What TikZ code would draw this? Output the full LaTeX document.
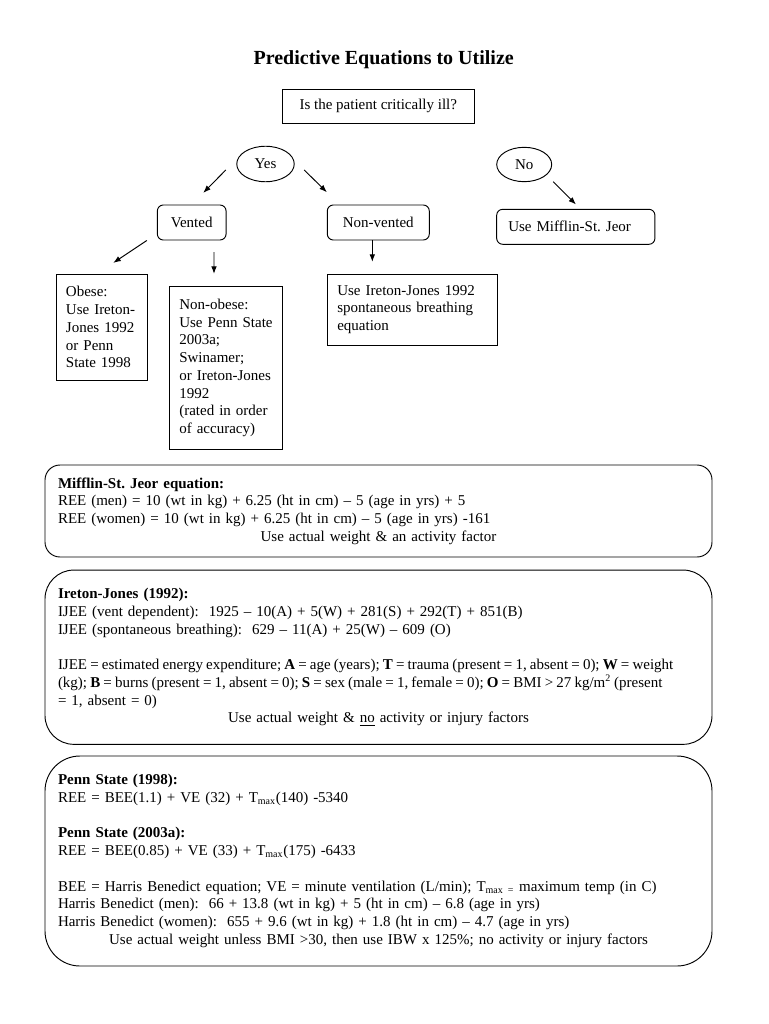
\documentclass[tikz,border=0pt]{standalone}
\usepackage{fontspec}
\setmainfont{Liberation Serif}
\usetikzlibrary{shapes.geometric,arrows.meta,calc}

\tikzset{every picture/.style={line width=0.75pt}}
\tikzset{
  txt/.style={font=\fontsize{12}{14.2}\selectfont\frenchspacing},
  sqbox/.style={draw, rectangle, txt, inner ysep=2pt},
  rndbox/.style={draw, rectangle, rounded corners=4.8pt, txt, inner ysep=2pt},
  oval/.style={draw, ellipse, txt, inner sep=0pt},
  eqbox/.style={draw, rectangle, txt, align=left, text width=512.8pt, inner xsep=10.4pt, inner ysep=2pt},
  arr/.style={-{Latex[length=6pt,width=4.5pt]}},
}
\newcommand{\tightline}[1]{\mbox{\spaceskip=0.21em plus 0.05em\relax #1}}

\begin{document}
\begin{tikzpicture}[x=0.8pt,y=0.8pt,yscale=-1,xscale=1]
\useasboundingbox (0,0) rectangle (768,1024);

% Text Node
\node [anchor=base, font=\fontsize{16}{19}\selectfont\bfseries] (title) at (383.7,65) {Predictive Equations to Utilize};

%Shape: Rectangle
\node [sqbox, minimum width=153.6pt, minimum height=27.2pt] (ill) at (378.3,106.3) {Is the patient critically ill?};
%Shape: Ellipse
\node [oval, minimum width=46pt, minimum height=28.4pt] (yes) at (265.5,164) {Yes};
%Shape: Ellipse
\node [oval, minimum width=44pt, minimum height=27.5pt] (no) at (524.2,164.5) {No};

%Shape: Rounded Rect
\node [rndbox, minimum width=55pt, minimum height=28pt] (vented) at (191.7,222.5) {Vented};
%Shape: Rounded Rect
\node [rndbox, minimum width=81.6pt, minimum height=28pt] (nonvented) at (378.3,222.5) {Non-vented};
%Shape: Rounded Rect
\node [rndbox, align=left, text width=108pt, inner xsep=9.3pt, minimum height=28pt] (usemifflin) at (575.8,226.8) {Use Mifflin-St. Jeor};

%Shape: Rectangle
\node [sqbox, align=left, text width=57.7pt, inner xsep=7.4pt, minimum height=84.6pt] (obese) at (102,327.2)
  {Obese:\\ Use Ireton-\\ Jones 1992\\ or Penn\\ State 1998};
%Shape: Rectangle
\node [sqbox, align=left, text width=74.7pt, inner xsep=8pt, minimum height=130.1pt] (nonobese) at (226,368)
  {Non-obese:\\ Use Penn State\\ 2003a;\\ Swinamer;\\ or Ireton-Jones\\ 1992\\ (rated in order\\ of accuracy)};
%Shape: Rectangle
\node [sqbox, align=left, text width=120pt, inner xsep=8pt, minimum height=56.8pt] (useij) at (412.3,309.5)
  {Use Ireton-Jones 1992\\ spontaneous breathing\\ equation};

%Straight Lines
\draw [arr] ($(yes.west)+(-10.5,6)$) -- ($(vented.north)+(11.6,-11.7)$);
\draw [arr] ($(yes.east)+(9.5,6)$) -- ($(nonvented.north west)+(0,-12.3)$);
\draw [arr] ($(no.east)+(1,17.2)$) -- ($(usemifflin.north)+(0.2,-4.3)$);
\draw [arr] ($(vented.south west)+(-10,0)$) -- ($(obese.north)+(11.3,-11)$);
\draw [arr] ($(vented.south)+(22.3,11.7)$) -- ($(nonobese.north)+(-12,-12.4)$);
\draw [arr] ($(nonvented.south)+(-6,0)$) -- ($(useij.north)+(-40,-11.7)$);

%Shape: Rounded Rect
\node [eqbox, rounded corners=12pt, minimum height=73.6pt] (mifflineq) at (378.5,511)
  {\textbf{Mifflin-St. Jeor equation:}\\
   REE (men) = 10 (wt in kg) + 6.25 (ht in cm) – 5 (age in yrs) + 5\\
   REE (women) = 10 (wt in kg) + 6.25 (ht in cm) – 5 (age in yrs) -161\\
   \makebox[\linewidth]{Use actual weight \& an activity factor}};

%Shape: Rounded Rect
\node [eqbox, rounded corners=23pt, minimum height=139.4pt] (ijeq) at (378.5,657.2)
  {\textbf{Ireton-Jones (1992):}\\
   IJEE (vent dependent):\ \ 1925 – 10(A) + 5(W) + 281(S) + 292(T) + 851(B)\\
   IJEE (spontaneous breathing):\ \ 629 – 11(A) + 25(W) – 609 (O)\\[\baselineskip]
   \tightline{IJEE = estimated energy expenditure; \textbf{A} = age (years); \textbf{T} = trauma (present = 1, absent = 0); \textbf{W} = weight}\\
   \tightline{(kg); \textbf{B} = burns (present = 1, absent = 0); \textbf{S} = sex (male = 1, female = 0); \textbf{O} = BMI > 27 kg/m\textsuperscript{2} (present}\\
   = 1, absent = 0)\\
   \makebox[\linewidth]{Use actual weight \& \underline{no} activity or injury factors}};

%Shape: Rounded Rect
\node [eqbox, rounded corners=28pt, minimum height=168pt] (penneq) at (378.5,861)
  {\textbf{Penn State (1998):}\\
   REE = BEE(1.1) + VE (32) + T\textsubscript{max}(140) -5340\\[\baselineskip]
   \textbf{Penn State (2003a):}\\
   REE = BEE(0.85) + VE (33) + T\textsubscript{max}(175) -6433\\[\baselineskip]
   BEE = Harris Benedict equation; VE = minute ventilation (L/min); T\textsubscript{max =} maximum temp (in C)\\
   Harris Benedict (men):\ \ 66 + 13.8 (wt in kg) + 5 (ht in cm) – 6.8 (age in yrs)\\
   Harris Benedict (women):\ \ 655 + 9.6 (wt in kg) + 1.8 (ht in cm) – 4.7 (age in yrs)\\
   \makebox[\linewidth]{Use actual weight unless BMI >30, then use IBW x 125\%; no activity or injury factors}};

\end{tikzpicture}
\end{document}
